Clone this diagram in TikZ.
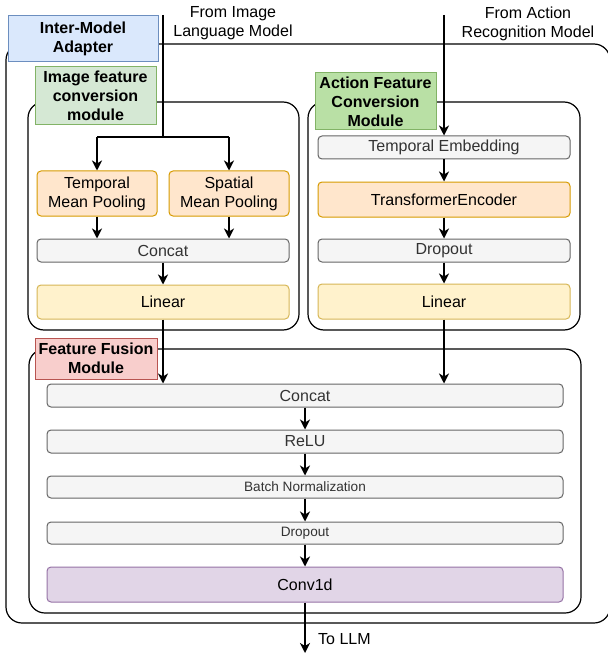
\documentclass[tikz,border=0pt]{standalone}
\usepackage{fontspec}
\setmainfont{Liberation Sans}
\usetikzlibrary{arrows.meta}
\definecolor{grayF}{HTML}{F5F5F5}
\definecolor{grayD}{HTML}{666666}
\definecolor{grayT}{HTML}{333333}
\definecolor{orF}{HTML}{FFE6CC}
\definecolor{orD}{HTML}{D79B00}
\definecolor{yeF}{HTML}{FFF2CC}
\definecolor{yeD}{HTML}{D6B656}
\definecolor{puF}{HTML}{E1D5E7}
\definecolor{puD}{HTML}{9673A6}
\definecolor{blF}{HTML}{DAE8FC}
\definecolor{blD}{HTML}{6C8EBF}
\definecolor{grF}{HTML}{D5E8D4}
\definecolor{grD}{HTML}{82B366}
\definecolor{agF}{HTML}{B9E0A5}
\definecolor{rdF}{HTML}{F8CECC}
\definecolor{rdD}{HTML}{B85450}
\begin{document}
\begin{tikzpicture}[x=1pt,y=-1pt,
  container/.style={draw=black, line width=1.2pt, rounded corners=16pt, fill=white},
  lbl/.style={draw, line width=1pt, inner sep=0pt, align=center,
    font=\fontsize{16}{19}\selectfont\bfseries},
  blk/.style={draw, line width=1pt, rounded corners=4pt, inner sep=0pt, align=center,
    font=\fontsize{16}{19}\selectfont},
  graybox/.style={blk, fill=grayF, draw=grayD, text=grayT},
  orbox/.style={blk, fill=orF, draw=orD},
  yebox/.style={blk, fill=yeF, draw=yeD},
  pubox/.style={blk, fill=puF, draw=puD},
  small/.style={font=\fontsize{13.6}{16}\selectfont},
  arr/.style={line width=1.8pt, -{Stealth[length=10pt,width=10pt,inset=3pt]}},
  plain/.style={line width=1.8pt},
  txt/.style={align=center, inner sep=0pt, font=\fontsize{16}{19}\selectfont},
]
\useasboundingbox (0,0) rectangle (607,655);

% containers
\draw[container] (6,44) rectangle (610,623);
\draw[container] (28,102) rectangle (299,330);
\draw[container] (308,102) rectangle (580,330);
\draw[container] (29,349) rectangle (581,613);

% source texts
\node[txt] (fromimg) at (233,23.5) {From Image\\Language Model};
\node[txt] (fromact) at (528,23.5) {From Action\\Recognition Model};

% image feature module boxes
\node[orbox, minimum width=120pt, minimum height=45pt] (tmp) at (97,193.5) {Temporal\\Mean Pooling};
\node[orbox, minimum width=120pt, minimum height=45pt] (sp) at (229,193.5) {Spatial\\Mean Pooling};
\node[graybox, minimum width=252pt, minimum height=23pt] (icat) at (163,250.5) {Concat};
\node[yebox, minimum width=252pt, minimum height=34pt] (ilin) at (163,302) {Linear};

% action feature module boxes
\node[graybox, minimum width=252pt, minimum height=23pt] (te) at (444,147.5) {Temporal Embedding};
\node[orbox, minimum width=252pt, minimum height=35pt] (tr) at (444,199.5) {TransformerEncoder};
\node[graybox, minimum width=252pt, minimum height=23pt] (ado) at (444,250.5) {Dropout};
\node[yebox, minimum width=252pt, minimum height=35pt] (alin) at (444,301.5) {Linear};

% fusion boxes
\node[graybox, minimum width=516pt, minimum height=23pt] (fcat) at (305,395.5) {Concat};
\node[graybox, minimum width=516pt, minimum height=23pt] (relu) at (305,441.5) {ReLU};
\node[graybox, small, minimum width=516pt, minimum height=22pt] (bn) at (305,487) {Batch Normalization};
\node[graybox, small, minimum width=516pt, minimum height=22pt] (fdo) at (305,533) {Dropout};
\node[pubox, minimum width=516pt, minimum height=35pt] (conv) at (305,584.5) {Conv1d};

% connectors
\coordinate (imgsrc) at (163,15);
\coordinate (br) at (163,137);
\coordinate (actsrc) at (444,15);
\coordinate (llm) at (305,653);
\draw[plain] (imgsrc) -- (br);
\draw[plain] (tmp.north |- br) -- (sp.north |- br);
\draw[arr] (tmp.north |- br) -- (tmp.north);
\draw[arr] (sp.north |- br) -- (sp.north);
\draw[arr] (tmp.south) -- (tmp.south |- icat.north);
\draw[arr] (sp.south) -- (sp.south |- icat.north);
\draw[arr] (icat.south) -- (ilin.north);
\draw[arr] (ilin.south) -- (ilin.south |- fcat.north);

\draw[arr] (actsrc) -- (te.north);
\draw[arr] (te.south) -- (tr.north);
\draw[arr] (tr.south) -- (ado.north);
\draw[arr] (ado.south) -- (alin.north);
\draw[arr] (alin.south) -- (alin.south |- fcat.north);

\draw[arr] (fcat.south) -- (relu.north);
\draw[arr] (relu.south) -- (bn.north);
\draw[arr] (bn.south) -- (fdo.north);
\draw[arr] (fdo.south) -- (conv.north);
\draw[arr] (conv.south) -- (llm);
\node[txt, anchor=west] (tollm) at (318,639) {To LLM};

% labels
\node[lbl, fill=blF, draw=blD, minimum width=150pt, minimum height=46pt] (adapter) at (83,39) {Inter-Model\\Adapter};
\node[lbl, fill=grF, draw=grD, minimum width=121pt, minimum height=58pt] (imgl) at (95.5,96) {Image feature\\conversion\\module};
\node[lbl, fill=agF, draw=grD, minimum width=121pt, minimum height=57pt] (actl) at (375.5,101.5) {Action Feature\\Conversion\\Module};
\node[lbl, fill=rdF, draw=rdD, minimum width=122pt, minimum height=41pt] (fusl) at (96,358.5) {Feature Fusion\\Module};
\end{tikzpicture}
\end{document}
